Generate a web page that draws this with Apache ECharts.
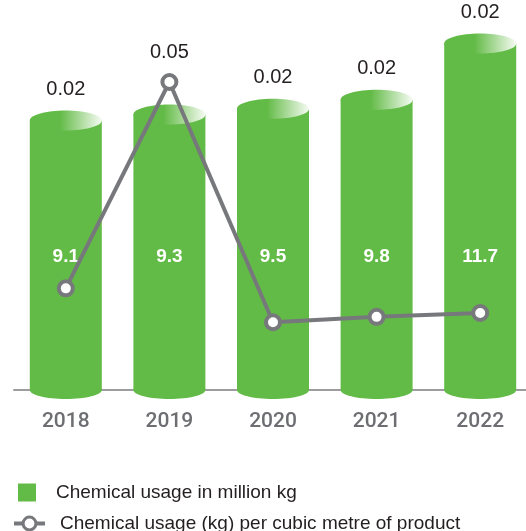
<!DOCTYPE html>
<html>
<head>
<meta charset="utf-8">
<script src="https://cdn.jsdelivr.net/npm/echarts@6/dist/echarts.min.js"></script>
<style>
html,body{margin:0;padding:0;background:#fff;overflow:hidden;width:526px;height:531px;}
#chart{width:532px;height:531px;}
</style>
</head>
<body>
<div id="chart"></div>
<script>
const years = ['2018', '2019', '2020', '2021', '2022'];
const usageMillionKg = [9.1, 9.3, 9.5, 9.8, 11.7];
const usagePerCubicMetre = [0.0232, 0.05, 0.0188, 0.0195, 0.0200];
const seriesNames = ['Chemical usage in million kg', 'Chemical usage (kg) per cubic metre of product'];

const GREEN = '#63bb47';
const GREY = '#77787b';
const FONT = '"Liberation Sans", Arial, Helvetica, sans-serif';

const chart = echarts.init(document.getElementById('chart'), null, {renderer: 'canvas'});

function renderCylinder(params, api) {
  const i = api.value(0);
  const v = api.value(1);
  const top = api.coord([i, v]);
  const base = api.coord([i, 0]);
  const bw = api.size([1, 0])[0] * 0.695;
  const rx = bw / 2;
  return {
    type: 'group',
    children: [
      {type: 'ellipse', shape: {cx: base[0], cy: base[1], rx: rx, ry: 9}, style: {fill: GREEN}},
      {type: 'rect', shape: {x: top[0] - rx, y: top[1], width: bw, height: base[1] - top[1]}, style: {fill: GREEN}},
      {type: 'ellipse', shape: {cx: top[0], cy: top[1], rx: rx, ry: 10},
        style: {fill: new echarts.graphic.LinearGradient(0, 0, 1, 0, [
          {offset: 0, color: GREEN}, {offset: 0.42, color: GREEN}, {offset: 1, color: '#f6fbf3'}])}},
      {type: 'text', style: {text: String(v), x: base[0], y: base[1] - 133, fill: '#ffffff',
        font: 'bold 19px ' + FONT, align: 'center', verticalAlign: 'middle'}}
    ]
  };
}

const option = {
  animation: false,
  backgroundColor: '#ffffff',
  grid: {left: 14, right: 0, top: 5, bottom: 141, containLabel: false},
  legend: [
    {
      data: [{name: seriesNames[0], icon: 'rect'}],
      left: 18, top: 483, padding: 0, itemWidth: 18, itemHeight: 18, selectedMode: false,
      textStyle: {fontSize: 19, color: '#231f20', fontFamily: FONT, padding: [0, 0, 0, 15]}
    },
    {
      data: [{name: seriesNames[1]}],
      left: 12, top: 514, padding: 0, itemWidth: 31, itemHeight: 16, selectedMode: false,
      lineStyle: {width: 4, color: GREY},
      itemStyle: {color: '#ffffff', borderColor: GREY, borderWidth: 3},
      textStyle: {fontSize: 19, color: '#231f20', fontFamily: FONT, padding: [0, 0, 0, 10]}
    }
  ],
  xAxis: {
    type: 'category', data: years,
    axisLine: {lineStyle: {color: '#9d9d9f', width: 2}},
    axisTick: {show: false},
    axisLabel: {color: '#6d6e71', fontSize: 21, fontWeight: 500, fontFamily: 'Roboto, "Noto Sans", sans-serif', margin: 21}
  },
  yAxis: [
    {type: 'value', min: 0, max: 13, show: false, splitLine: {show: false}},
    {type: 'value', min: 0.01, max: 0.06, show: false, splitLine: {show: false}}
  ],
  series: [
    {
      id: 'bars', name: seriesNames[0], type: 'custom', yAxisIndex: 0,
      itemStyle: {color: GREEN}, clip: false, z: 2,
      renderItem: renderCylinder,
      encode: {x: 0, y: 1},
      data: usageMillionKg.map((v, i) => [i, v])
    },
    {
      id: 'line', name: seriesNames[1], type: 'line', yAxisIndex: 1, z: 5,
      symbol: 'circle', symbolSize: 14,
      lineStyle: {color: GREY, width: 4},
      itemStyle: {color: '#ffffff', borderColor: GREY, borderWidth: 4},
      label: {show: true, position: 'inside', color: '#231f20', fontSize: 20, fontFamily: FONT,
        formatter: p => p.value.toFixed(2)},
      data: usagePerCubicMetre.slice()
    }
  ]
};
chart.setOption(option);

const lineData = usagePerCubicMetre.map((v, i) => {
  const barTop = chart.convertToPixel({yAxisIndex: 0}, usageMillionKg[i]);
  const mk = chart.convertToPixel({yAxisIndex: 1}, v);
  const top = Math.min(barTop - 10, mk - 9);
  return {value: v, label: {offset: [0, top - 21 - mk]}};
});
chart.setOption({series: [{id: 'bars'}, {id: 'line', data: lineData}]});
</script>
</body>
</html>
